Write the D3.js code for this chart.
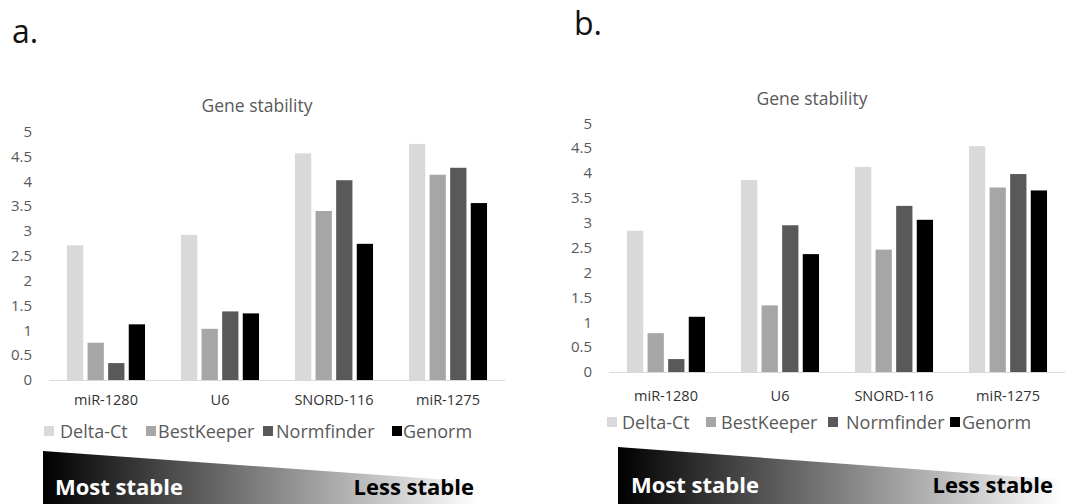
<!DOCTYPE html>
<html>
<head>
<meta charset="utf-8">
<script src="https://cdn.jsdelivr.net/npm/d3@7"></script>
<style>
  html, body { margin: 0; padding: 0; background: #fff; }
  svg { display: block; }
  text { font-family: "Open Sans", sans-serif; }
</style>
</head>
<body>
<svg id="chart" width="1070" height="504"></svg>
<script>
// ---- data ----
const categories = ["miR-1280", "U6", "SNORD-116", "miR-1275"];
const seriesNames = ["Delta-Ct", "BestKeeper", "Normfinder", "Genorm"];
const seriesColors = ["#d9d9d9", "#a6a6a6", "#595959", "#000000"];
const tickValues = [0, 0.5, 1, 1.5, 2, 2.5, 3, 3.5, 4, 4.5, 5];
const tickLabels = ["0", "0.5", "1", "1.5", "2", "2.5", "3", "3.5", "4", "4.5", "5"];

// panel a values (per series, per category)
const aDeltaCt    = [2.71, 2.92, 4.56, 4.75];
const aBestKeeper = [0.75, 1.03, 3.40, 4.13];
const aNormfinder = [0.34, 1.38, 4.02, 4.27];
const aGenorm     = [1.12, 1.34, 2.74, 3.56];

// panel b values
const bDeltaCt    = [2.84, 3.86, 4.12, 4.54];
const bBestKeeper = [0.78, 1.34, 2.46, 3.71];
const bNormfinder = [0.26, 2.95, 3.34, 3.98];
const bGenorm     = [1.11, 2.37, 3.06, 3.65];

const titleText = "Gene stability";
const mostText = "Most stable";
const lessText = "Less stable";

// ---- drawing ----
const FONT = "'Open Sans', sans-serif";
const svg = d3.select("#chart");
const defs = svg.append("defs");
const grad = defs.append("linearGradient").attr("id", "wedgeGrad")
  .attr("x1", "0%").attr("x2", "100%").attr("y1", "0%").attr("y2", "0%");
grad.append("stop").attr("offset", "0%").attr("stop-color", "#000");
grad.append("stop").attr("offset", "100%").attr("stop-color", "#fff");

function drawPanel(cfg, seriesValues) {
  const g = svg.append("g");
  const x = d3.scaleBand().domain(categories).range([cfg.x0, cfg.x1]).padding(0);
  const xs = d3.scaleBand().domain(seriesNames).range([0, x.bandwidth()])
    .paddingInner(0.21).paddingOuter(0.872);
  const y = d3.scaleLinear().domain([0, 5]).range([cfg.yBase, cfg.yTop]);

  // panel letter
  g.append("text").attr("x", cfg.letterX).attr("y", cfg.letterY)
    .attr("font-size", 32).attr("fill", "#111").text(cfg.letter);

  // title
  g.append("text").attr("x", cfg.titleX).attr("y", cfg.titleY)
    .attr("text-anchor", "middle").attr("dominant-baseline", "central")
    .attr("font-size", 17.5).attr("fill", "#595959").text(titleText);

  // y axis labels
  const yAxis = d3.axisLeft(y).tickValues(tickValues).tickSize(0).tickPadding(17)
    .tickFormat((d, i) => tickLabels[i]);
  const ya = g.append("g").attr("transform", `translate(${cfg.x0},0)`).call(yAxis);
  ya.select(".domain").remove();
  ya.selectAll("text").attr("font-size", 15).attr("fill", "#595959")
    .attr("font-family", FONT);

  // bars
  const rows = [];
  categories.forEach((c, ci) => {
    seriesNames.forEach((s, si) => {
      rows.push({ c, s, si, v: seriesValues[si][ci] });
    });
  });
  g.append("g").selectAll("rect").data(rows).join("rect")
    .attr("x", d => x(d.c) + xs(d.s))
    .attr("width", xs.bandwidth())
    .attr("y", d => y(d.v))
    .attr("height", d => y(0) - y(d.v))
    .attr("fill", d => seriesColors[d.si]);

  // x axis
  const xAxis = d3.axisBottom(x).tickSize(0).tickPadding(cfg.catPad);
  const xa = g.append("g").attr("transform", `translate(0,${cfg.yBase})`).call(xAxis);
  xa.select(".domain").attr("stroke", "#d9d9d9").attr("stroke-width", 1.2);
  xa.selectAll("text").attr("font-size", 14.5).attr("fill", "#333")
    .attr("font-family", FONT);

  // legend
  const lg = g.append("g");
  seriesNames.forEach((s, i) => {
    lg.append("rect").attr("x", cfg.legendSq[i]).attr("y", cfg.legendY - 5)
      .attr("width", 10).attr("height", 10).attr("fill", seriesColors[i]);
    lg.append("text").attr("x", cfg.legendTx[i]).attr("y", cfg.legendY)
      .attr("dominant-baseline", "central").attr("font-size", 18)
      .attr("fill", "#595959").text(s);
  });

  // wedge
  const w = cfg.wedge;
  g.append("polygon")
    .attr("points", [[w.x0, w.yTop0], [w.x1, w.yTop1], [w.x1, 504], [w.x0, 504]].map(p => p.join(",")).join(" "))
    .attr("fill", "url(#wedgeGrad)");
  g.append("text").attr("x", w.mostX).attr("y", w.textY)
    .attr("font-size", 22).attr("font-weight", "bold").attr("fill", "#fff").text(mostText);
  g.append("text").attr("x", w.lessX).attr("y", w.textY).attr("text-anchor", "end")
    .attr("font-size", 22).attr("font-weight", "bold").attr("fill", "#000").text(lessText);
}

drawPanel({
  letter: "a.", letterX: 12, letterY: 43,
  titleX: 257, titleY: 105,
  x0: 49, x1: 505, yBase: 380, yTop: 131.5, catPad: 15,
  legendY: 431, legendSq: [44, 146, 263, 392], legendTx: [60, 158, 276, 403],
  wedge: { x0: 43, yTop0: 451, x1: 478, yTop1: 482, mostX: 55, lessX: 474, textY: 495 }
}, [aDeltaCt, aBestKeeper, aNormfinder, aGenorm]);

drawPanel({
  letter: "b.", letterX: 574, letterY: 35,
  titleX: 812, titleY: 98,
  x0: 609, x1: 1065, yBase: 372, yTop: 123.3, catPad: 19,
  legendY: 422, legendSq: [607, 706, 828, 950], legendTx: [622, 721, 846, 962],
  wedge: { x0: 618, yTop0: 447, x1: 1062, yTop1: 480, mostX: 631, lessX: 1053, textY: 493 }
}, [bDeltaCt, bBestKeeper, bNormfinder, bGenorm]);
</script>
</body>
</html>
